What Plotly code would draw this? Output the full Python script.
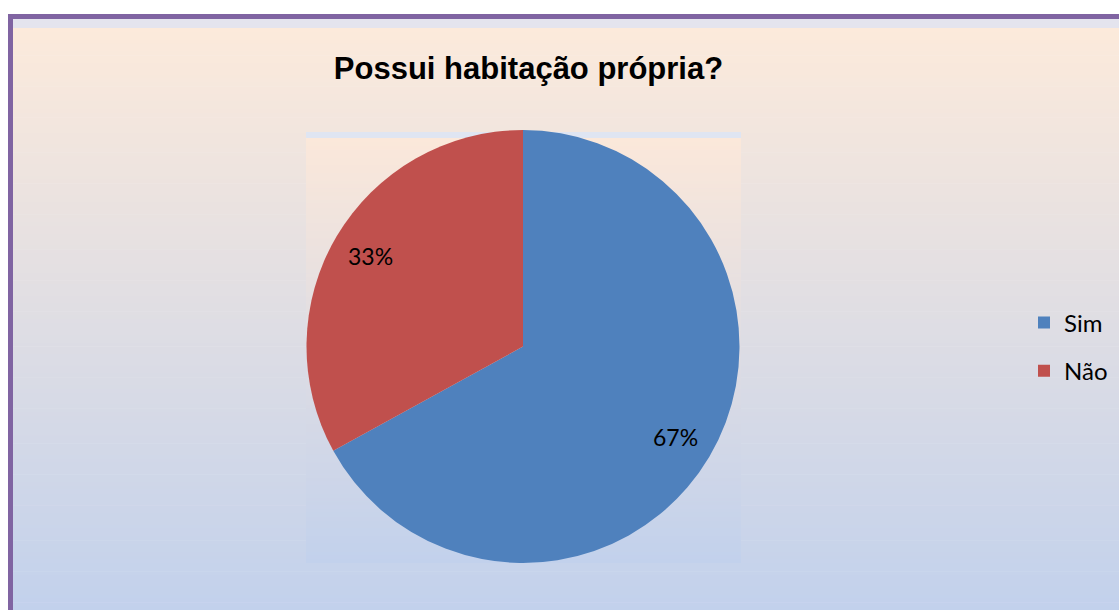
import math
import plotly.graph_objects as go

# ---- data ----
title_text = "Possui habitação própria?"
categories = ["Sim", "Não"]
values = [67, 33]
colors = ["#4F81BD", "#C0504D"]

W, H = 1119, 610

def px(x):
    return x / W

def py(y):
    return (H - y) / H

def hex2rgb(h):
    h = h.lstrip("#")
    return tuple(int(h[i:i + 2], 16) for i in (0, 2, 4))

def lerp(c1, c2, t):
    a, b = hex2rgb(c1), hex2rgb(c2)
    return "rgb(%d,%d,%d)" % tuple(round(a[i] + (b[i] - a[i]) * t) for i in range(3))

shapes = []

def gradient(x0, x1, y0, y1, ctop, cbot, n):
    step = (y1 - y0) / n
    for i in range(n):
        ya = y0 + i * step
        yb = ya + step + 0.6
        shapes.append(dict(type="rect", xref="paper", yref="paper",
                           x0=px(x0), x1=px(x1), y0=py(min(yb, y1)), y1=py(ya),
                           fillcolor=lerp(ctop, cbot, (i + 0.5) / n),
                           line=dict(width=0), layer="below"))

# chart area background
shapes.append(dict(type="rect", xref="paper", yref="paper", x0=px(13), x1=px(W + 5),
                   y0=py(28), y1=py(19), fillcolor="#E4E4EE", line=dict(width=0), layer="below"))
gradient(13, W + 5, 28, H, "#FCEADB", "#C2D1EC", 150)

# plot area background
shapes.append(dict(type="rect", xref="paper", yref="paper", x0=px(306), x1=px(741),
                   y0=py(138), y1=py(132), fillcolor="#DFE5F2", line=dict(width=0), layer="below"))
gradient(306, 741, 138, 563, "#FBE8DA", "#C2D1EC", 110)

# purple frame
shapes.append(dict(type="rect", xref="paper", yref="paper", x0=px(10.5), x1=px(W + 20),
                   y0=py(H + 20), y1=py(16.5), fillcolor="rgba(0,0,0,0)",
                   line=dict(color="#8064A2", width=5), layer="above"))

cx, cy, R = 523, 346.5, 216.5

fig = go.Figure()
fig.add_trace(go.Pie(
    labels=categories, values=values, sort=False, direction="clockwise", rotation=0,
    marker=dict(colors=colors, line=dict(width=0)),
    textinfo="none", hoverinfo="label+percent", showlegend=False,
    domain=dict(x=[px(cx - 218), px(cx + 218)], y=[py(cy + R), py(cy - R)]),
))

# legend entries
for i, (c, col) in enumerate(zip(categories, colors)):
    fig.add_trace(go.Scatter(x=[None], y=[None], mode="markers", name=c,
                             legendgroup="g%d" % i,
                             marker=dict(symbol="square", size=11, color=col)))

# percentage labels along slice bisectors
total = sum(values)
annotations = []
acc = 0
for v in values:
    mid = (acc + v / 2) / total * 2 * math.pi
    acc += v
    r = 0.82 * R
    annotations.append(dict(x=px(cx + r * math.sin(mid)), y=py(cy - r * math.cos(mid)),
                            xref="paper", yref="paper", showarrow=False,
                            xanchor="center", yanchor="middle",
                            text="%d%%" % round(v / total * 100),
                            font=dict(family="Lato", size=23, color="#000000")))

fig.update_layout(
    width=W, height=H,
    margin=dict(l=0, r=0, t=0, b=0),
    paper_bgcolor="#FFFFFF",
    plot_bgcolor="rgba(0,0,0,0)",
    title=dict(text="<b>" + title_text + "</b>", x=px(528.5), xanchor="center",
               y=py(68), yanchor="middle",
               font=dict(family="Liberation Sans, Arial", size=31, color="#000000")),
    xaxis=dict(visible=False, domain=[0, 0.01]),
    yaxis=dict(visible=False, domain=[0, 0.01]),
    legend=dict(x=px(1024), xanchor="left", y=py(347), yanchor="middle",
                bgcolor="rgba(0,0,0,0)", traceorder="grouped", tracegroupgap=14,
                font=dict(family="Lato", size=24, color="#000000"),
                itemsizing="constant"),
    shapes=shapes,
    annotations=annotations,
)

fig.write_html("out.html", config={"displayModeBar": False},
               post_script="document.body.style.margin='0';document.body.style.overflow='hidden';")
